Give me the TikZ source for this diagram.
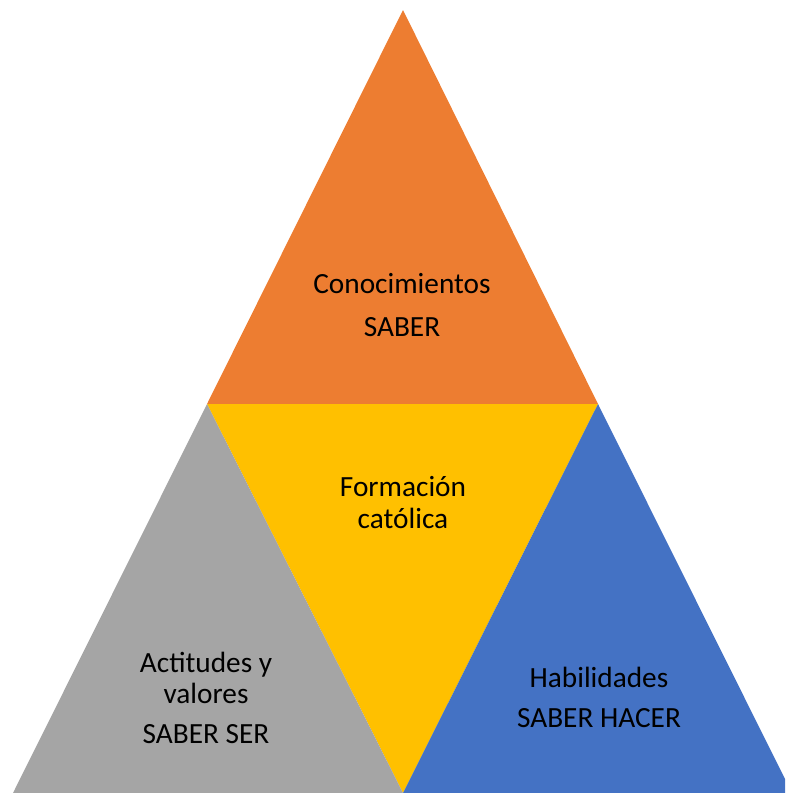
\documentclass[tikz,border=0pt]{standalone}
\usepackage{fontspec}
\setmainfont{Carlito}
\definecolor{cOrange}{HTML}{ED7D31}
\definecolor{cYellow}{HTML}{FFC000}
\definecolor{cGray}{HTML}{A5A5A5}
\definecolor{cBlue}{HTML}{4472C4}
\begin{document}
\begin{tikzpicture}[x=1pt,y=-1pt,
  lbl/.style={anchor=base,inner sep=0pt,font=\fontsize{29.3}{32}\selectfont,text=black}]
\useasboundingbox (0,0) rectangle (785,793);
\clip (0,0) rectangle (785,793);
\coordinate (A) at (403,10);
\coordinate (L) at (207,404);
\coordinate (R) at (598,404);
\coordinate (BL) at (13,793);
\coordinate (BM) at (403,793);
\coordinate (BR) at (792,793);
\fill[cOrange] (A) -- (R) -- (L) -- cycle;
\fill[cYellow] (L) -- (R) -- (BM) -- cycle;
\fill[cGray] (L) -- (BM) -- (BL) -- cycle;
\fill[cBlue] (R) -- (BR) -- (BM) -- cycle;
\node[lbl] (t1) at (402,293) {Conocimientos};
\node[lbl] (t2) at (402,336) {SABER};
\node[lbl] (t3) at (403,496) {Formación};
\node[lbl] (t4) at (403,528) {católica};
\node[lbl] (t5) at (206,672) {Actitudes y};
\node[lbl] (t6) at (206,703) {valores};
\node[lbl] (t7) at (206,743) {SABER SER};
\node[lbl] (t8) at (599,687) {Habilidades};
\node[lbl] (t9) at (599,727) {SABER HACER};
\end{tikzpicture}
\end{document}
